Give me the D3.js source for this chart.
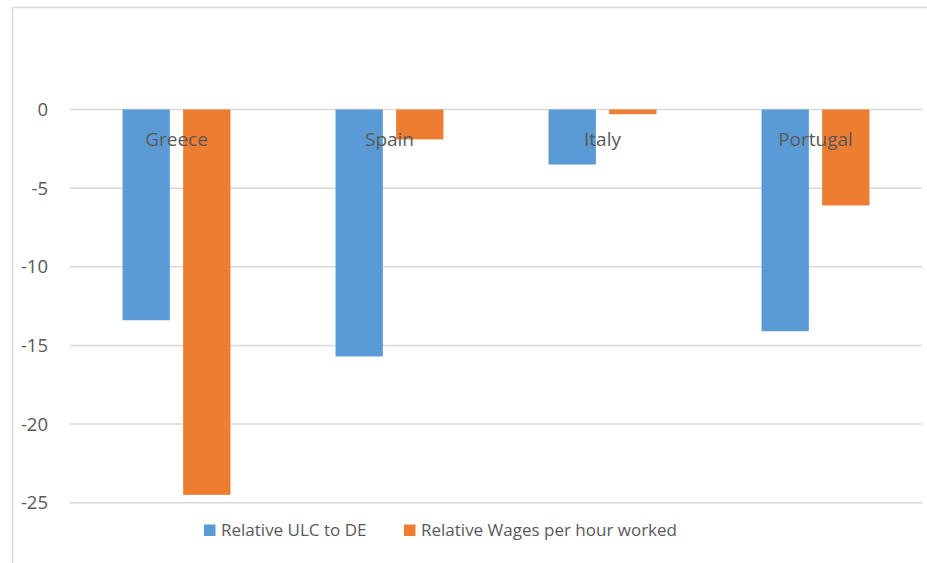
<!DOCTYPE html>
<html><head><meta charset="utf-8">
<script src="https://cdn.jsdelivr.net/npm/d3@7"></script>
<style>body{margin:0;background:#fff;}svg{display:block;}text{font-family:"Open Sans","Noto Sans",sans-serif;fill:#595959;}</style>
</head><body><svg id="c" width="927" height="563"></svg>
<script>
const categories = ["Greece", "Spain", "Italy", "Portugal"];
const seriesNames = ["Relative ULC to DE", "Relative Wages per hour worked"];
const ulc = [-13.4, -15.7, -3.5, -14.1];
const wages = [-24.5, -1.9, -0.3, -6.1];
const yTicks = [0, -5, -10, -15, -20, -25];
const colors = ["#5B9BD5", "#ED7D31"];

const svg = d3.select("#c");
// outer frame (top & left visible)
svg.append("line").attr("x1",12.5).attr("x2",927).attr("y1",7.5).attr("y2",7.5).attr("stroke","#D9D9D9").attr("stroke-width",1.5);
svg.append("line").attr("x1",12.5).attr("x2",12.5).attr("y1",7.5).attr("y2",563).attr("stroke","#D9D9D9").attr("stroke-width",1.5);

const x0 = d3.scaleBand().domain(categories).range([70, 922]);
const y = d3.scaleLinear().domain([0, -25]).range([109.5, 502.7]);
const bw = 47.3, gap = 13.3;

// gridlines
svg.append("g").selectAll("line").data(yTicks).join("line")
  .attr("x1",70).attr("x2",922).attr("y1",d=>y(d)).attr("y2",d=>y(d))
  .attr("stroke","#D9D9D9").attr("stroke-width",1.5);

// y tick labels
svg.append("g").selectAll("text").data(yTicks).join("text")
  .attr("x",48).attr("y",d=>y(d)).attr("dy","0.35em").attr("text-anchor","end")
  .attr("font-size",18.5).text(d=>d);

const series = [ulc, wages];
series.forEach((vals, si) => {
  svg.append("g").selectAll("rect").data(categories).join("rect")
    .attr("x", (c) => x0(c) + x0.bandwidth()/2 + (si === 0 ? -gap/2 - bw : gap/2))
    .attr("width", bw)
    .attr("y", y(0))
    .attr("height", (c,i) => y(vals[i]) - y(0))
    .attr("fill", colors[si]);
});

// category labels
svg.append("g").selectAll("text").data(categories).join("text")
  .attr("x", c => x0(c) + x0.bandwidth()/2).attr("y", 139.5).attr("dy","0.35em")
  .attr("text-anchor","middle").attr("font-size",19).text(c=>c);

// legend
const legendX = [204, 404];
seriesNames.forEach((n, i) => {
  svg.append("rect").attr("x", legendX[i]).attr("y", 524.5).attr("width", 11.5).attr("height", 11.5).attr("fill", colors[i]);
  svg.append("text").attr("x", legendX[i] + 17).attr("y", 530).attr("dy","0.35em").attr("font-size",17).text(n);
});
</script></body></html>
